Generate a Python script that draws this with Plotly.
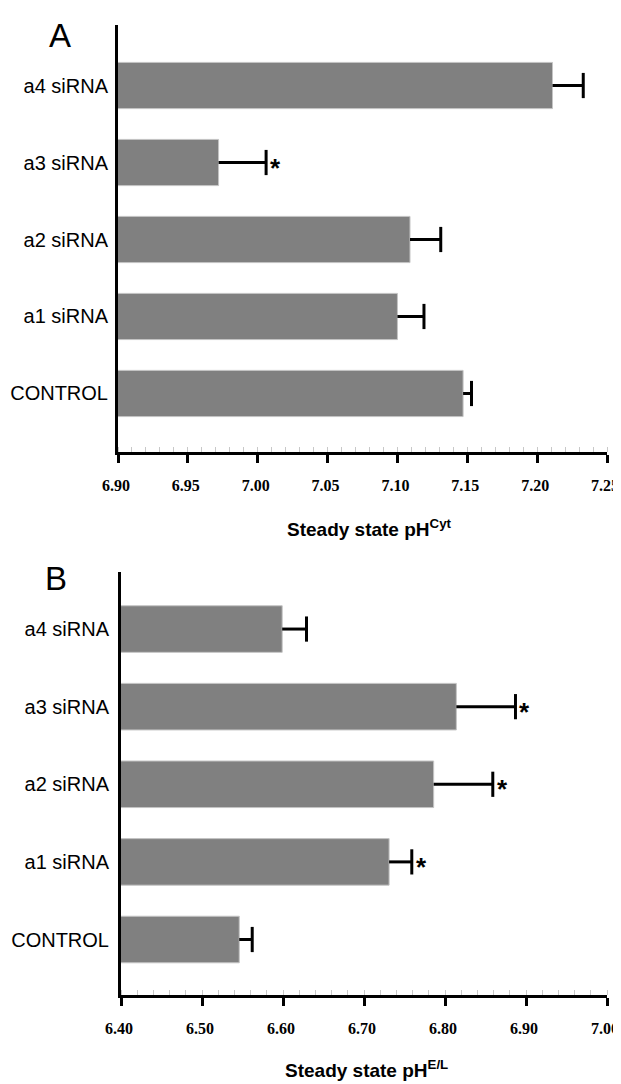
import plotly.graph_objects as go

W, H = 621, 1084
OFF = 8  # default page body margin in the exported html

categories = ["CONTROL", "a1 siRNA", "a2 siRNA", "a3 siRNA", "a4 siRNA"]

cyt_mean = [7.147, 7.100, 7.109, 6.972, 7.211]
cyt_err = [0.006, 0.019, 0.022, 0.034, 0.022]
cyt_sig = [False, False, False, True, False]

el_mean = [6.546, 6.731, 6.786, 6.814, 6.599]
el_err = [0.016, 0.028, 0.073, 0.073, 0.030]
el_sig = [False, True, True, True, False]

cyt_ticks = [6.90, 6.95, 7.00, 7.05, 7.10, 7.15, 7.20, 7.25]
el_ticks = [6.40, 6.50, 6.60, 6.70, 6.80, 6.90, 7.00]

BAR = "#808080"
SANS = "Liberation Sans, Arial, sans-serif"
SERIF = "Liberation Serif, Times New Roman, serif"


def px(x):
    return (x - OFF) / W


def py(y):
    return 1 - (y - OFF) / H


fig = go.Figure()


def add_panel(means, errs, sig, xa, ya):
    fig.add_trace(go.Bar(
        x=means, y=categories, orientation="h",
        marker=dict(color=BAR, line=dict(color="#c4c4c4", width=1)),
        width=0.6,
        error_x=dict(type="data", symmetric=False, array=errs,
                     arrayminus=[0] * len(errs), width=0, thickness=3,
                     color="black"),
        xaxis=xa, yaxis=ya, showlegend=False,
    ))
    ends = [m + e for m, e in zip(means, errs)]
    fig.add_trace(go.Scatter(
        x=ends, y=categories, mode="markers",
        marker=dict(symbol="line-ns-open", size=18, color="black",
                    line=dict(color="black", width=3)),
        xaxis=xa, yaxis=ya, showlegend=False, hoverinfo="skip",
    ))
    for c, x, s in zip(categories, ends, sig):
        if s:
            fig.add_annotation(
                x=x, y=c, xref=xa, yref=ya, text="<b>*</b>", showarrow=False,
                xanchor="left", yanchor="middle", xshift=2, yshift=-5,
                font=dict(family=SANS, size=26, color="black"),
            )


add_panel(cyt_mean, cyt_err, cyt_sig, "x", "y")
add_panel(el_mean, el_err, el_sig, "x2", "y2")


def xaxis_cfg(domain, rng, ticks, minor_dt):
    return dict(
        domain=domain, range=rng, tickvals=ticks,
        ticktext=[f"{t:.2f}" for t in ticks],
        showline=True, linecolor="black", linewidth=3,
        ticks="outside", ticklen=8, tickwidth=3, tickcolor="black",
        minor=dict(ticks="inside", dtick=minor_dt, ticklen=5, tickwidth=1,
                   tickcolor="#c8c8c8", showgrid=False),
        showgrid=False, zeroline=False, fixedrange=True, automargin=False,
        ticklabeloverflow="allow", ticklabelshift=-2,
        tickfont=dict(family=SERIF, size=16, color="black", weight="bold"),
        ticklabelstandoff=9,
    )


def yaxis_cfg(domain, rng, anchor, standoff):
    return dict(
        domain=domain, range=rng, anchor=anchor,
        type="category", categoryorder="array", categoryarray=categories,
        showline=True, linecolor="black", linewidth=3,
        ticks="", showgrid=False, zeroline=False, fixedrange=True,
        automargin=False,
        tickfont=dict(family=SANS, size=20, color="black"),
        ticklabelstandoff=standoff,
    )


fig.update_layout(
    width=W, height=H,
    margin=dict(l=0, r=0, t=0, b=0, autoexpand=False),
    paper_bgcolor="white", plot_bgcolor="white",
    xaxis=xaxis_cfg([px(118), px(607)], [6.90, 7.25], cyt_ticks, 0.01) | dict(anchor="y"),
    yaxis=yaxis_cfg([py(452), py(25)], [-0.76, 4.786], "x", 3),
    xaxis2=xaxis_cfg([px(121), px(607)], [6.40, 7.00], el_ticks, 0.02) | dict(anchor="y2"),
    yaxis2=yaxis_cfg([py(995), py(572)], [-0.715, 4.735], "x2", 5),
    barmode="overlay",
)

fig.add_annotation(x=px(369), y=py(528), xref="paper", yref="paper",
                   text="<b>Steady state pH<sup>Cyt</sup></b>", showarrow=False,
                   xanchor="center", yanchor="middle",
                   font=dict(family=SANS, size=19, color="black"))
fig.add_annotation(x=px(366), y=py(1069), xref="paper", yref="paper",
                   text="<b>Steady state pH<sup>E/L</sup></b>", showarrow=False,
                   xanchor="center", yanchor="middle",
                   font=dict(family=SANS, size=19, color="black"))
fig.add_annotation(x=px(60), y=py(36), xref="paper", yref="paper",
                   text="A", showarrow=False, xanchor="center", yanchor="middle",
                   font=dict(family=SANS, size=33, color="black"))
fig.add_annotation(x=px(56), y=py(578), xref="paper", yref="paper",
                   text="B", showarrow=False, xanchor="center", yanchor="middle",
                   font=dict(family=SANS, size=33, color="black"))

fig.write_html("out.html")
